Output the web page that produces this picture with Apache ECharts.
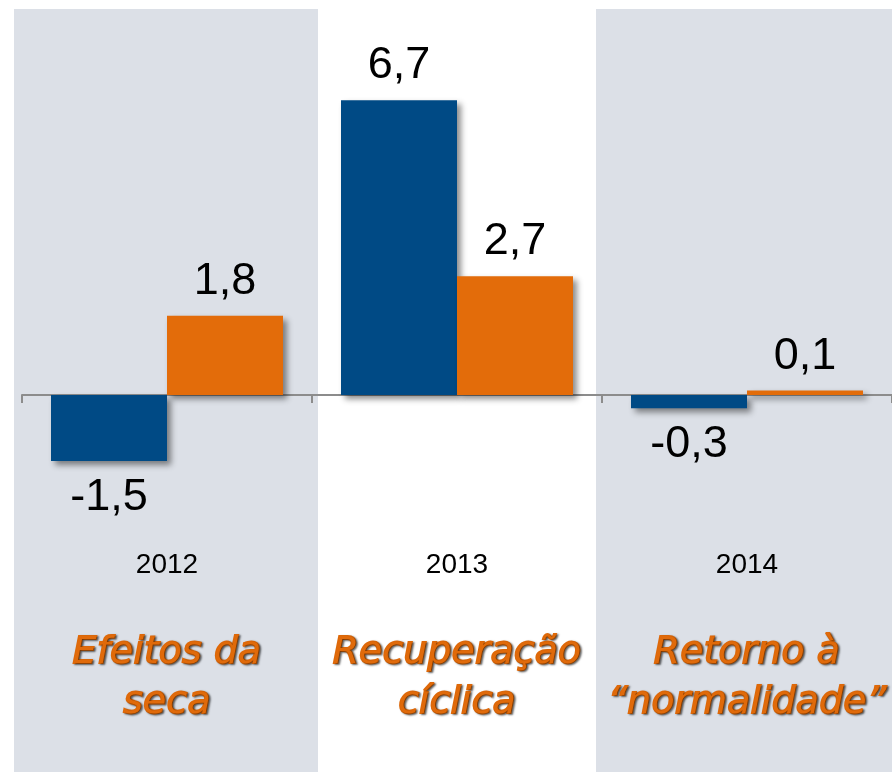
<!DOCTYPE html>
<html>
<head>
<meta charset="utf-8">
<script src="https://cdn.jsdelivr.net/npm/echarts@6/dist/echarts.min.js"></script>
<style>
  html, body { margin: 0; padding: 0; background: #fff; }
  #chart { width: 892px; height: 772px; }
</style>
</head>
<body>
<div id="chart"></div>
<script>
// data
var years = ['2012', '2013', '2014']
var blueValues = [-1.5, 6.7, -0.3]
var orangeValues = [1.8, 2.7, 0.1]
var captions = ['Efeitos da\nseca', 'Recuperação\ncíclica', 'Retorno à\n“normalidade”']

var BLUE = '#004a85'
var ORANGE = '#e36c0a'
var BAND = '#dce0e7'

function fmt(p) {
  return String(p.value).replace('.', ',')
}

// negative bars get their label under the bar
function toData(arr) {
  return arr.map(function (v) {
    return {
      value: v,
      label: { position: v < 0 ? 'bottom' : 'top', distance: v < 0 ? 14 : 12 }
    }
  })
}

function barSeries(name, color, values) {
  return {
    name: name,
    type: 'bar',
    barWidth: 116,
    barGap: 0,
    data: toData(values),
    itemStyle: {
      color: color,
      shadowColor: 'rgba(0,0,0,0.45)',
      shadowBlur: 6,
      shadowOffsetX: 4,
      shadowOffsetY: 4
    },
    label: {
      show: true,
      formatter: fmt,
      color: '#000',
      fontFamily: 'Liberation Sans, Arial, sans-serif',
      fontSize: 45
    },
    animation: false
  }
}

var chart = echarts.init(document.getElementById('chart'))
chart.setOption({
  backgroundColor: '#fff',
  graphic: [
    { type: 'rect', z: -10, silent: true, shape: { x: 14, y: 9, width: 304, height: 763 }, style: { fill: BAND } },
    { type: 'rect', z: -10, silent: true, shape: { x: 596, y: 9, width: 296, height: 763 }, style: { fill: BAND } }
  ],
  grid: {
    left: 22,
    width: 874,
    top: 43,
    bottom: 201
  },
  xAxis: [
    {
      type: 'category',
      data: years,
      axisLine: { onZero: true, lineStyle: { color: '#8c8c8c', width: 2 } },
      axisTick: { show: true, length: 8, lineStyle: { color: '#8c8c8c', width: 2 } },
      axisLabel: {
        margin: -20,
        color: '#000',
        fontFamily: 'Liberation Sans, Arial, sans-serif',
        fontSize: 28
      }
    },
    {
      type: 'category',
      data: captions,
      position: 'bottom',
      axisLine: { show: false, onZero: false },
      axisTick: { show: false },
      axisLabel: {
        interval: 0,
        margin: 57,
        color: '#e06a0a',
        fontFamily: 'DejaVu Sans, sans-serif',
        fontStyle: 'italic',
        fontSize: 38,
        lineHeight: 50,
        textBorderColor: '#e06a0a',
        textBorderWidth: 1.8,
        textShadowColor: 'rgba(0,0,0,0.5)',
        textShadowBlur: 2,
        textShadowOffsetX: 1.5,
        textShadowOffsetY: 1.5
      }
    }
  ],
  yAxis: {
    type: 'value',
    min: -4,
    max: 8,
    show: false,
    splitLine: { show: false }
  },
  series: [
    barSeries('blue', BLUE, blueValues),
    barSeries('orange', ORANGE, orangeValues)
  ]
})
</script>
</body>
</html>
